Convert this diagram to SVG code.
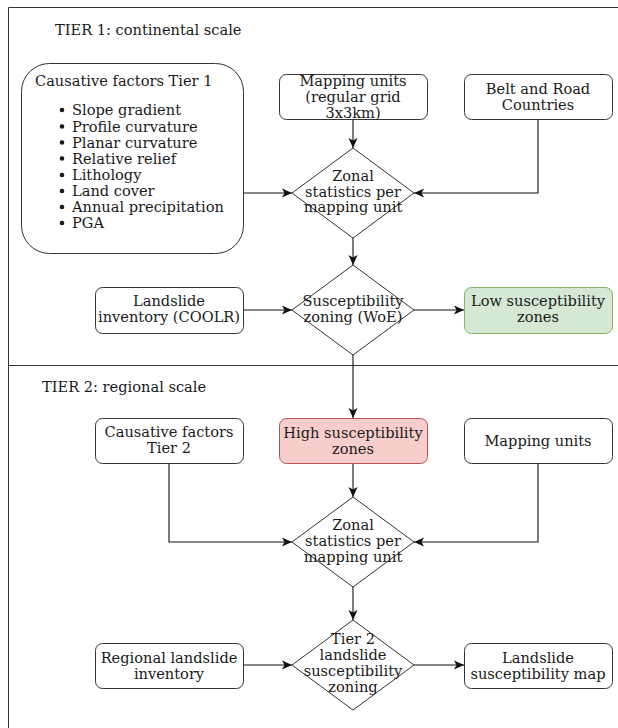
<svg xmlns="http://www.w3.org/2000/svg" width="618" height="728" viewBox="0 0 618 728">
<style>
text{font-family:"DejaVu Serif","Liberation Serif",serif;font-size:14.6px;fill:#1a1a1a}
.c{text-anchor:middle}
.box{fill:#fff;stroke:#333;stroke-width:1}
.dia{fill:#fff;stroke:#333;stroke-width:1}
.edge{fill:none;stroke:#111;stroke-width:1.1}
.frame{fill:none;stroke:#333;stroke-width:1}
</style>
<defs>
<marker id="arr" markerUnits="userSpaceOnUse" markerWidth="12" markerHeight="12" viewBox="0 0 12 12" refX="11" refY="6" orient="auto">
<path d="M1,1.5 L11,6 L1,10.5 L3.5,6 Z" fill="#111"/>
</marker>
</defs>
<rect width="618" height="728" fill="#fff"/>
<g id="frame">
<path class="frame" d="M618,7.5 H8.5 V728"/>
<path class="frame" d="M8.5,365.5 H618"/>
<text x="55" y="35">TIER 1: continental scale</text>
<text x="42" y="392">TIER 2: regional scale</text>
</g>
<g id="connectors">
<path class="edge" marker-end="url(#arr)" d="M243,193 H292"/>
<path class="edge" marker-end="url(#arr)" d="M353,120 V148"/>
<path class="edge" marker-end="url(#arr)" d="M538,120 V193 H414"/>
<path class="edge" marker-end="url(#arr)" d="M353,238 V265"/>
<path class="edge" marker-end="url(#arr)" d="M243,310 H292"/>
<path class="edge" marker-end="url(#arr)" d="M414,310 H464"/>
<path class="edge" marker-end="url(#arr)" d="M353,355 V418"/>
<path class="edge" marker-end="url(#arr)" d="M169,463 V542 H292"/>
<path class="edge" marker-end="url(#arr)" d="M353,463 V497"/>
<path class="edge" marker-end="url(#arr)" d="M538,463 V542 H414"/>
<path class="edge" marker-end="url(#arr)" d="M353,587 V620"/>
<path class="edge" marker-end="url(#arr)" d="M243,665 H292"/>
<path class="edge" marker-end="url(#arr)" d="M414,665 H464"/>
</g>
<g id="causative1">
<rect class="box" x="21.5" y="63.5" width="222" height="190" rx="28" ry="28"/>
<text x="35" y="86">Causative factors Tier 1</text>
<g fill="#1a1a1a">
<circle cx="62" cy="110" r="2.3"/><circle cx="62" cy="126.5" r="2.3"/><circle cx="62" cy="142.5" r="2.3"/><circle cx="62" cy="158.5" r="2.3"/>
<circle cx="62" cy="175" r="2.3"/><circle cx="62" cy="191" r="2.3"/><circle cx="62" cy="207" r="2.3"/><circle cx="62" cy="223" r="2.3"/>
</g>
<text x="72" y="115">Slope gradient</text>
<text x="72" y="131.5">Profile curvature</text>
<text x="72" y="147.5">Planar curvature</text>
<text x="72" y="163.5">Relative relief</text>
<text x="72" y="180">Lithology</text>
<text x="72" y="196">Land cover</text>
<text x="72" y="212">Annual precipitation</text>
<text x="72" y="228">PGA</text>
</g>
<g id="mapping1">
<rect class="box" x="279.5" y="74.5" width="148" height="45" rx="7"/>
<text class="c" x="353" y="85.5">Mapping units</text>
<text class="c" x="353" y="101.5">(regular grid</text>
<text class="c" x="353" y="117.5">3x3km)</text>
</g>
<g id="belt">
<rect class="box" x="464.5" y="74.5" width="148" height="45" rx="7"/>
<text class="c" x="538" y="94">Belt and Road</text>
<text class="c" x="538" y="110">Countries</text>
</g>
<g id="zonal1">
<path class="dia" d="M353,148 L414,193 L353,238 L292,193 Z"/>
<text class="c" x="353" y="180.5">Zonal</text>
<text class="c" x="353" y="196.5">statistics per</text>
<text class="c" x="353" y="212">mapping unit</text>
</g>
<g id="inventory1">
<rect class="box" x="95.5" y="287.5" width="148" height="46" rx="7"/>
<text class="c" x="169" y="305.5">Landslide</text>
<text class="c" x="169" y="321.5">inventory (COOLR)</text>
</g>
<g id="zoning1">
<path class="dia" d="M353,265 L414,310 L353,355 L292,310 Z"/>
<text class="c" x="353" y="305.5">Susceptibility</text>
<text class="c" x="353" y="321.5">zoning (WoE)</text>
</g>
<g id="low">
<rect x="464.5" y="287.5" width="148" height="46" rx="7" fill="#d5e8d4" stroke="#82b366"/>
<text class="c" x="538" y="305.5">Low susceptibility</text>
<text class="c" x="538" y="321.5">zones</text>
</g>
<g id="causative2">
<rect class="box" x="95.5" y="418.5" width="148" height="45" rx="7"/>
<text class="c" x="169" y="437">Causative factors</text>
<text class="c" x="169" y="453">Tier 2</text>
</g>
<g id="high">
<rect x="279.5" y="418.5" width="148" height="45" rx="7" fill="#f8cecc" stroke="#b85450"/>
<text class="c" x="353" y="437.5">High susceptibility</text>
<text class="c" x="353" y="453.5">zones</text>
</g>
<g id="mapping2">
<rect class="box" x="464.5" y="418.5" width="148" height="45" rx="7"/>
<text class="c" x="538" y="445.5">Mapping units</text>
</g>
<g id="zonal2">
<path class="dia" d="M353,497 L414,542 L353,587 L292,542 Z"/>
<text class="c" x="353" y="530">Zonal</text>
<text class="c" x="353" y="546">statistics per</text>
<text class="c" x="353" y="562">mapping unit</text>
</g>
<g id="regional">
<rect class="box" x="95.5" y="643.5" width="148" height="45" rx="7"/>
<text class="c" x="169" y="662.5">Regional landslide</text>
<text class="c" x="169" y="678.5">inventory</text>
</g>
<g id="zoning2">
<path class="dia" d="M353,620 L414,665 L353,710 L292,665 Z"/>
<text class="c" x="353" y="643.5">Tier 2</text>
<text class="c" x="353" y="659.5">landslide</text>
<text class="c" x="353" y="675.5">susceptibility</text>
<text class="c" x="353" y="691.5">zoning</text>
</g>
<g id="map">
<rect class="box" x="464.5" y="643.5" width="148" height="45" rx="7"/>
<text class="c" x="538" y="662.5">Landslide</text>
<text class="c" x="538" y="678.5">susceptibility map</text>
</g>
</svg>
